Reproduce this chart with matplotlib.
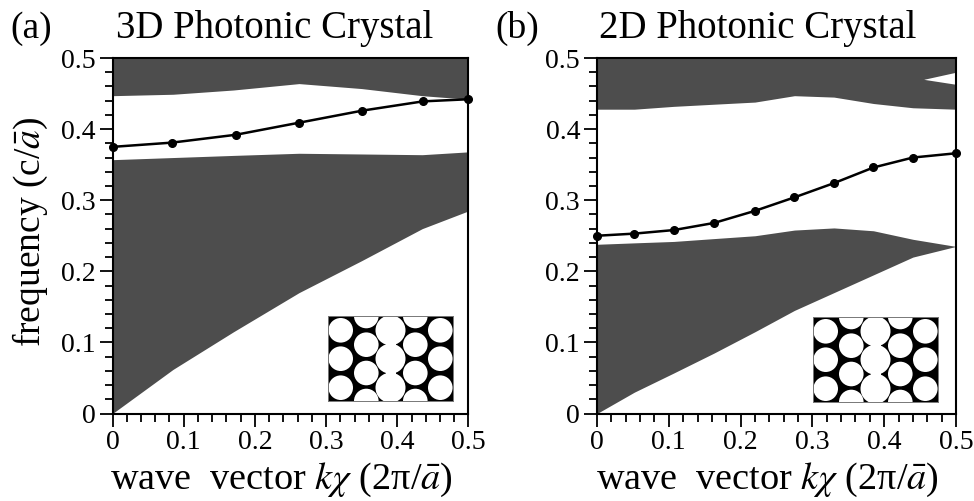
import matplotlib
matplotlib.use('Agg')
import matplotlib.pyplot as plt
from matplotlib.patches import Circle, Rectangle
import numpy as np

plt.rcParams['font.family'] = ['Liberation Serif', 'DejaVu Serif']
plt.rcParams['mathtext.fontset'] = 'stix'

W, H = 974, 501
DARK = '#4d4d4d'

# panel a
ka_edge = [0, 0.085, 0.17, 0.262, 0.35, 0.435, 0.5]
a_light = [0, 0.062, 0.115, 0.170, 0.215, 0.260, 0.285]
a_low_top = [0.357, 0.360, 0.363, 0.366, 0.365, 0.364, 0.368]
a_up_low = [0.447, 0.449, 0.455, 0.464, 0.457, 0.447, 0.442]
ka_mode = [0, 0.0836, 0.173, 0.262, 0.351, 0.436, 0.5]
a_mode = [0.375, 0.381, 0.392, 0.409, 0.426, 0.439, 0.442]

# panel b
kb_edge = [0, 0.052, 0.107, 0.163, 0.22, 0.275, 0.33, 0.385, 0.44, 0.5]
b_light = [0, 0.030, 0.057, 0.085, 0.115, 0.145, 0.170, 0.195, 0.220, 0.235]
b_low_top = [0.238, 0.240, 0.242, 0.246, 0.250, 0.258, 0.261, 0.257, 0.245, 0.235]
b_up_low = [0.428, 0.428, 0.432, 0.435, 0.438, 0.447, 0.445, 0.436, 0.430, 0.428]
kb_mode = kb_edge
b_mode = [0.250, 0.253, 0.258, 0.268, 0.285, 0.304, 0.324, 0.346, 0.360, 0.366]
kb_gap = [0.455, 0.5]
b_gap_low = [0.470, 0.463]
b_gap_high = [0.470, 0.480]

tick_vals = [0, 0.1, 0.2, 0.3, 0.4, 0.5]
tick_labels = ['0', '0.1', '0.2', '0.3', '0.4', '0.5']

# crystal hole layout, inset pixels
hole_x = [12.7, 38.3, 87.3, 112.3]
rows_odd = [14.3, 42.7, 71.7]
rows_even = [0, 28.7, 57, 85]
center_x = 62.5


def px_axes(l, t, r, b):
    return fig.add_axes([l / W, 1 - b / H, (r - l) / W, (b - t) / H])


def draw_panel(box, k, light, low_top, up_low, k_mode, mode):
    ax = px_axes(*box)
    ax.fill_between(k, light, low_top, color=DARK, lw=0)
    ax.fill_between(k, up_low, 0.5, color=DARK, lw=0)
    ax.plot(k_mode, mode, '-', color='black', lw=1.8, marker='o', ms=5.5, clip_on=False, zorder=5)
    ax.set_xlim(0, 0.5)
    ax.set_ylim(0, 0.5)
    ax.set_xticks(tick_vals, tick_labels)
    ax.set_yticks(tick_vals, tick_labels)
    ax.set_xticks(np.arange(0, 0.51, 0.02), minor=True)
    ax.set_yticks(np.arange(0, 0.51, 0.02), minor=True)
    ax.tick_params(which='major', length=9.2, width=1.3, labelsize=20, pad=3)
    ax.tick_params(which='minor', length=5.8, width=1.3)
    for s in ax.spines.values():
        s.set_linewidth(1.5)
    ax.set_xlabel(r'wave  vector $k\chi$ (2π/$\bar{a}$)', fontsize=27.5)
    ax.xaxis.set_label_coords(0.476, -0.133)
    return ax


def draw_inset(box):
    ax = px_axes(*box)
    ax.set_facecolor('black')
    ax.set_xlim(0, 125)
    ax.set_ylim(85, 0)
    ax.set_xticks([])
    ax.set_yticks([])
    for s in ax.spines.values():
        s.set_linewidth(0.7)
        s.set_color('#777777')
    for i, x in enumerate(hole_x):
        rows = rows_odd if i in (0, 3) else rows_even
        for y in rows:
            ax.add_patch(Circle((x, y), 12.3, color='white', lw=0))
    for y in rows_odd:
        ax.add_patch(Circle((center_x, y), 15, color='white', lw=0))
    ax.add_patch(Rectangle((center_x - 5, 0), 10, 85, color='white', lw=0))


fig = plt.figure(figsize=(W / 100, H / 100), dpi=100)

ax_a = draw_panel((112.5, 58, 468.5, 413.5), ka_edge, a_light, a_low_top, a_up_low, ka_mode, a_mode)
ax_a.set_ylabel(r'frequency (c/$\bar{a}$)', fontsize=27)
ax_a.yaxis.set_label_coords(-0.176, 0.51)

ax_b = draw_panel((597, 58, 956, 413.5), kb_edge, b_light, b_low_top, b_up_low, kb_mode, b_mode)
ax_b.fill_between(kb_gap, b_gap_low, b_gap_high, color='white', lw=0)

draw_inset((328, 316, 453, 401))
draw_inset((813, 317, 938, 402))

fig.text(10 / W, 1 - 38 / H, '(a)', fontsize=27, ha='left', va='baseline')
fig.text(116 / W, 1 - 38 / H, '3D Photonic Crystal', fontsize=28, ha='left', va='baseline')
fig.text(495 / W, 1 - 38 / H, '(b)', fontsize=27, ha='left', va='baseline')
fig.text(599 / W, 1 - 38 / H, '2D Photonic Crystal', fontsize=28, ha='left', va='baseline')

fig.savefig('out.png', dpi=100)
